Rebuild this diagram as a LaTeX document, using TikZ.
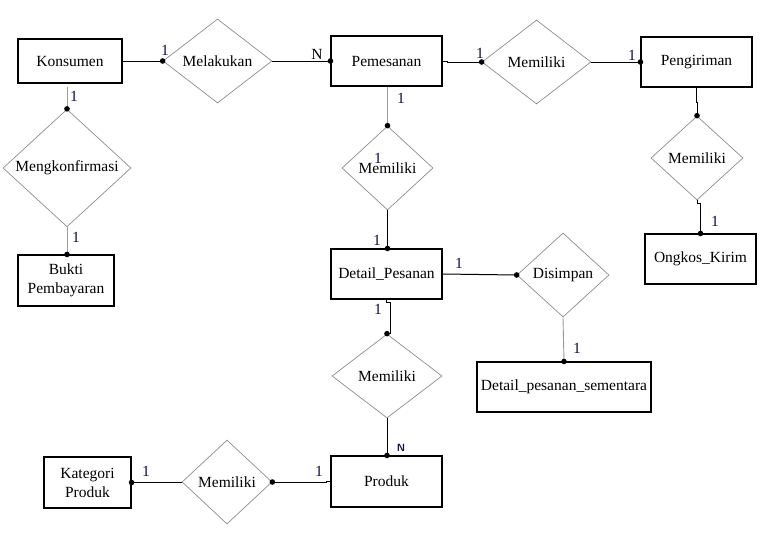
\documentclass[tikz,border=0pt]{standalone}
\usepackage{fontspec}
\setmainfont{Liberation Serif}
\usetikzlibrary{shapes.geometric}
\definecolor{lbl}{HTML}{10104A}
\definecolor{dgray}{HTML}{8C8C8C}
\definecolor{cgray}{HTML}{9A9A9A}
\begin{document}
\begin{tikzpicture}[x=1pt,y=-1pt,
  every node/.style={font=\fontsize{15.5}{19}\selectfont},
  ent/.style={draw=black,line width=1.1pt,inner sep=0pt,align=center,minimum width=111pt,minimum height=50pt},
  rel/.style={draw=dgray,line width=0.7pt,diamond,inner sep=0pt,minimum width=#1,minimum height=84pt},
  bconn/.style={draw=black,line width=1pt},
  gconn/.style={draw=cgray,line width=0.9pt},
  card/.style={text=lbl,inner sep=0pt},
  dotr/.style={fill=black}
]
\useasboundingbox (0,0) rectangle (777,558);
% entities
\node[ent,minimum width=104pt,minimum height=44pt] (kons) at (70,61) {Konsumen};
\node[ent] (pem) at (386.5,61) {Pemesanan};
\node[ent] (peng) at (696.5,62) {Pengiriman};
\node[ent,minimum width=96pt,minimum height=51pt] (bukti) at (66,280.5) {Bukti\\Pembayaran};
\node[ent] (detp) at (386.5,274) {Detail\_Pesanan};
\node[ent] (ongk) at (700.5,259) {Ongkos\_Kirim};
\node[ent,minimum width=174pt] (dps) at (564,387) {Detail\_pesanan\_sementara};
\node[ent,minimum width=87pt,minimum height=51pt] (kat) at (87.5,482.5) {Kategori\\Produk};
\node[ent,minimum height=51pt] (prod) at (386.5,481.5) {Produk};
% relationships
\node[rel=109pt] (melak) at (217.5,61) {Melakukan};
\node[rel=109pt] (mem1) at (536.5,62) {Memiliki};
\node[rel=128pt] (mengk) at (67,168) {Mengkonfirmasi};
\node[rel=91pt] (mem2) at (387.5,168) {Memiliki};
\node[rel=92pt] (mem3) at (697,158) {Memiliki};
\node[rel=92pt] (dis) at (563,275) {Disimpan};
\node[rel=110pt] (mem4) at (387,376) {Memiliki};
\node[rel=90pt] (mem5) at (227,482) {Memiliki};
% connectors
\draw[bconn] (kons.east) -- (melak.west);
\fill[dotr] (melak.west) circle[radius=2.8];
\draw[bconn] (melak.east) -- (pem.west);
\fill[dotr] (pem.west) circle[radius=2.8];
\draw[bconn] (pem.east) -- ++(5,0) |- (mem1.west);
\fill[dotr] (mem1.west) circle[radius=2.8];
\draw[bconn] (mem1.east) -- (peng.west);
\fill[dotr] (peng.west) circle[radius=2.8];
\draw[gconn] ([yshift=-3pt]mengk.north |- kons.south) -- (mengk.north);
\fill[dotr] (mengk.north) circle[radius=2.8];
\draw[gconn] (mengk.south) -- (mengk.south |- bukti.north);
\fill[dotr] (mengk.south |- bukti.north) circle[radius=2.8];
\draw[gconn] (mem2.north |- pem.south) -- (mem2.north);
\fill[dotr] (mem2.north) circle[radius=2.8];
\draw[bconn] (mem2.south) -- (mem2.south |- detp.north);
\fill[dotr] (mem2.south |- detp.north) circle[radius=2.8];
\draw[bconn] (peng.south) -- ++(0,15) -| (mem3.north);
\fill[dotr] (mem3.north) circle[radius=2.8];
\draw[bconn] (mem3.south) -- ++(0,3) -| (ongk.north);
\fill[dotr] (ongk.north) circle[radius=2.8];
\draw[bconn] (detp.east) -- (dis.west);
\fill[dotr] (dis.west) circle[radius=2.8];
\draw[gconn] (dis.south) -- (dps.north);
\fill[dotr] (dps.north) circle[radius=2.8];
\draw[bconn] (detp.south) -- ++(0,3) -| ([xshift=3pt]mem4.north) -- (mem4.north);
\fill[dotr] (mem4.north) circle[radius=2.8];
\draw[bconn] (mem4.south) -- (mem4.south |- prod.north);
\fill[dotr] (mem4.south |- prod.north) circle[radius=2.8];
\draw[bconn] (kat.east) -- ++(45,0) |- (mem5.west);
\fill[dotr] (kat.east) circle[radius=2.8];
\draw[bconn] (mem5.east) -- ++(54,0) |- (prod.west);
\fill[dotr] (mem5.east) circle[radius=2.8];
% cardinalities
\node[card] (c1) at (165,50) {1};
\node[card,text=black!85!lbl] (c2) at (317,54) {N};
\node[card] (c3) at (480,53) {1};
\node[card] (c4) at (632,55) {1};
\node[card] (c5) at (74,96) {1};
\node[card] (c6) at (76,237) {1};
\node[card] (c7) at (401,98) {1};
\node[card] (c8) at (378,158) {1};
\node[card] (c9) at (377,240) {1};
\node[card] (c10) at (459,263) {1};
\node[card] (c11) at (715,221) {1};
\node[card] (c12) at (577,348) {1};
\node[card] (c13) at (378,309) {1};
\node[card,font=\fontsize{10.5}{12}\sffamily\bfseries] (c14) at (401,448) {N};
\node[card] (c15) at (146,471) {1};
\node[card] (c16) at (319,471) {1};
\end{tikzpicture}
\end{document}
